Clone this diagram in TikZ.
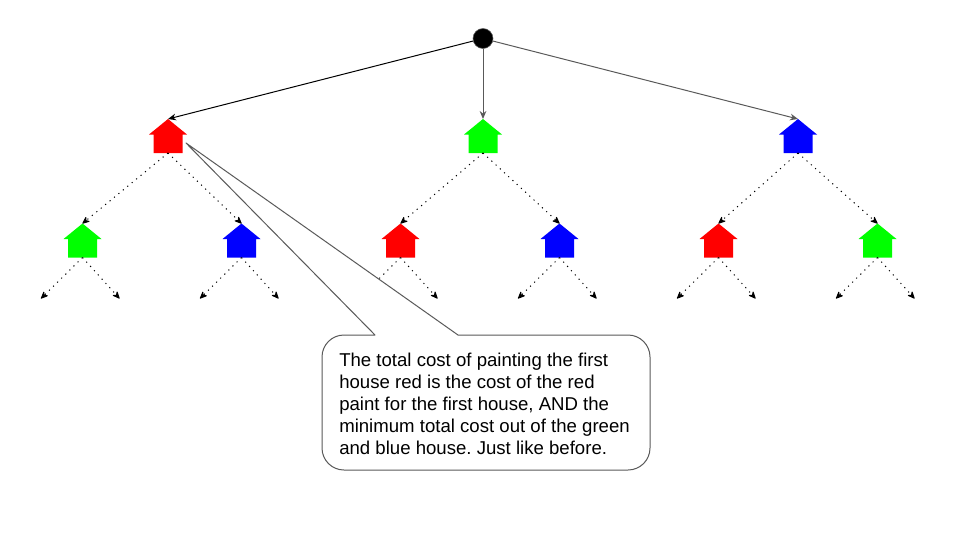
\documentclass[tikz,border=0pt]{standalone}
\usepackage{fontspec}
\setmainfont{Liberation Sans}
\usetikzlibrary{arrows.meta}
\definecolor{hred}{RGB}{255,0,0}
\definecolor{hgreen}{RGB}{0,255,0}
\definecolor{hblue}{RGB}{0,0,255}
\definecolor{lgray}{RGB}{89,89,89}
\tikzset{
  x=0.75pt,y=-0.75pt,
  housebox/.style={inner sep=0pt,minimum width=28.5pt,minimum height=25.5pt,outer sep=0pt},
  solidedge/.style={line width=0.75pt,-{Stealth[length=6pt,width=5pt]}},
  dotedge/.style={black,line width=0.75pt,dash pattern=on 0.85pt off 3.45pt,-{Stealth[length=6.5pt,width=5.5pt,round]}},
  bubble/.style={draw=lgray,line width=0.75pt,fill=white,line join=round},
  bubbletext/.style={inner sep=0pt,anchor=west,align=left,font=\fontsize{13.95}{16.5}\selectfont\frenchspacing}
}
\newcommand{\house}[4]{%
  \node[housebox] (#1) at (#2,#3) {};
  \fill[#4] (#1.north) -- ({#2+19},{#3-1.5}) -- ({#2+14.5},{#3-1.5}) -- ({#2+14.5},{#3+17}) -- ({#2-14.5},{#3+17}) -- ({#2-14.5},{#3-1.5}) -- ({#2-19},{#3-1.5}) -- cycle;
}
\begin{document}
\begin{tikzpicture}
\useasboundingbox (0,0) rectangle (960,540);
\node[circle,fill=black,draw=lgray,line width=0.4pt,minimum size=15pt,inner sep=0pt] (root) at (483,38.5) {};
\house{a}{168}{136}{hred}
\house{b}{483}{136}{hgreen}
\house{c}{798}{136}{hblue}
\house{a1}{82.5}{240.5}{hgreen}
\house{a2}{241.5}{240.5}{hblue}
\house{b1}{400.5}{240.5}{hred}
\house{b2}{559.5}{240.5}{hblue}
\house{c1}{718.5}{240.5}{hred}
\house{c2}{877.5}{240.5}{hgreen}
\foreach \n/\x in {a1/82.5,a2/241.5,b1/400.5,b2/559.5,c1/718.5,c2/877.5}{
  \coordinate (\n l) at ({\x-41.5},298.5);
  \coordinate (\n r) at ({\x+37},298.5);
}
\draw[solidedge,black] (root) -- (a.north);
\draw[solidedge,lgray] (root) -- (b.north);
\draw[solidedge,lgray] (root) -- (c.north);
\foreach \p/\q in {a/a1,a/a2,b/b1,b/b2,c/c1,c/c2}{
  \draw[dotedge] (\p.south) -- (\q.north);
}
\foreach \q in {a1,a2,b1,b2,c1,c2}{
  \draw[dotedge] (\q.south) -- (\q l);
  \draw[dotedge] (\q.south) -- (\q r);
}
\coordinate (tip) at (186,143);
\draw[bubble] (tip) -- (375,335) [rounded corners=16.5pt] -- (322,335) -- (322,470) -- (650,470) -- (650,335) [sharp corners] -- (458,335) -- cycle;
\node[bubbletext] (note) at (339,404) {The total cost of painting the first\\house red is the cost of the red\\paint for the first house, AND the\\minimum total cost out of the green\\and blue house. Just like before.};
\end{tikzpicture}
\end{document}
